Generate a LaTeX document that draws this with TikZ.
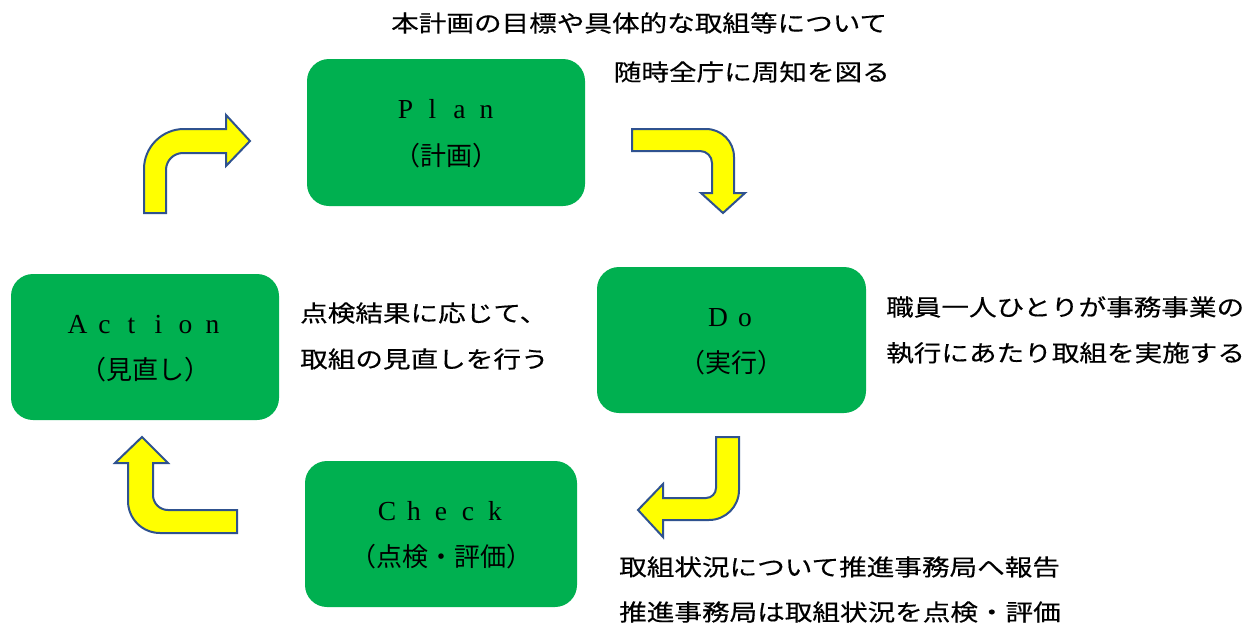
\documentclass[tikz,border=0pt]{standalone}
\usepackage{graphicx}
\usepackage{fontspec}
\setmainfont{Liberation Serif}
\newfontfamily\jp{Noto Sans CJK JP}
\newfontfamily\jpnote[FakeBold=0.3]{Noto Sans CJK JP}
\definecolor{boxgreen}{HTML}{00B050}
\definecolor{arrowblue}{HTML}{2F528F}
\definecolor{arrowyellow}{HTML}{FFFF00}
\newcommand\lcell[1]{\makebox[27pt]{#1}}
\newcommand\widetxt[1]{\scalebox{1.2}[1]{#1}}
\begin{document}
\begin{tikzpicture}[x=1pt,y=-1pt,
  phase/.style={fill=boxgreen, rounded corners=22pt, inner sep=0pt},
  bendarrow/.style={fill=arrowyellow, draw=arrowblue, line width=2pt, line join=miter},
  latin/.style={font=\fontsize{27.5}{27.5}\selectfont, inner sep=0pt, anchor=base},
  boxjp/.style={font=\jp\fontsize{26}{26}\selectfont, inner sep=0pt},
  note/.style={font=\jpnote\fontsize{23}{23}\selectfont, inner sep=0pt}]
\fill[white] (0,0) rectangle (1253,629);
\useasboundingbox (0,0) rectangle (1253,629);

% phase boxes
\node[phase, minimum width=278pt, minimum height=147pt] (plan) at (446,132.5) {};
\node[phase, minimum width=269pt, minimum height=146pt] (do) at (731.5,340) {};
\node[phase, minimum width=268pt, minimum height=146pt] (action) at (145,347) {};
\node[phase, minimum width=272pt, minimum height=146pt] (check) at (441,534) {};

% box texts
\node[latin] (planL) at (446,118) {\lcell{P}\lcell{l}\lcell{a}\lcell{n}};
\node[boxjp] (planJ) at (446,156) {（計画）};
\node[latin] (doL) at (731.5,326) {\lcell{D}\lcell{o}};
\node[boxjp] (doJ) at (731.5,363) {（実行）};
\node[latin] (actionL) at (145,333) {\lcell{A}\lcell{c}\lcell{t}\lcell{i}\lcell{o}\lcell{n}};
\node[boxjp] (actionJ) at (145,370) {（見直し）};
\node[latin] (checkL) at (441,520) {\lcell{C}\lcell{h}\lcell{e}\lcell{c}\lcell{k}};
\node[boxjp] (checkJ) at (441,557) {（点検・評価）};

% bent arrows
\draw[bendarrow] (144,213) -- (144,169) .. controls (144,147) and (162,129) .. (184,129)
  -- (226,129) -- (226,115) -- (250,141) -- (226,166) -- (226,153) -- (183,153)
  .. controls (173.6,153) and (166,160.6) .. (166,170) -- (166,213) -- cycle;
\draw[bendarrow] (632,129) -- (706,129) .. controls (721.5,129) and (734,141.5) .. (734,157)
  -- (734,193) -- (745,193) -- (723,213) -- (701,193) -- (712,193) -- (712,163)
  .. controls (712,156.4) and (706.6,151) .. (700,151) -- (632,151) -- cycle;
\draw[bendarrow] (716,437) -- (739,437) -- (739,490) .. controls (739,506.6) and (725.6,520) .. (709,520)
  -- (663,520) -- (663,537) -- (638,510) -- (663,484) -- (663,498) -- (706,498)
  .. controls (711.5,498) and (716,493.5) .. (716,488) -- cycle;
\draw[bendarrow] (237,510) -- (237,533) -- (160,533) .. controls (142.3,533) and (128,518.7) .. (128,501)
  -- (128,463) -- (115,463) -- (142,437) -- (168,463) -- (153,463) -- (153,495)
  .. controls (153,503.3) and (159.7,510) .. (168,510) -- cycle;

% notes
\node[note, anchor=west] (n1a) at (391,23) {\widetxt{本計画の目標や具体的な取組等について}};
\node[note, anchor=east] (n1b) at (890,72) {\widetxt{随時全庁に周知を図る}};
\node[note, anchor=west] (n2a) at (886,307) {\widetxt{職員一人ひとりが事務事業の}};
\node[note, anchor=west] (n2b) at (886,353) {\widetxt{執行にあたり取組を実施する}};
\node[note, anchor=west] (n3a) at (619,567) {\widetxt{取組状況について推進事務局へ報告}};
\node[note, anchor=west] (n3b) at (619,612) {\widetxt{推進事務局は取組状況を点検・評価}};
\node[note, anchor=west] (n4a) at (300,313) {\widetxt{点検結果に応じて、}};
\node[note, anchor=west] (n4b) at (300,359) {\widetxt{取組の見直しを行う}};
\end{tikzpicture}
\end{document}
